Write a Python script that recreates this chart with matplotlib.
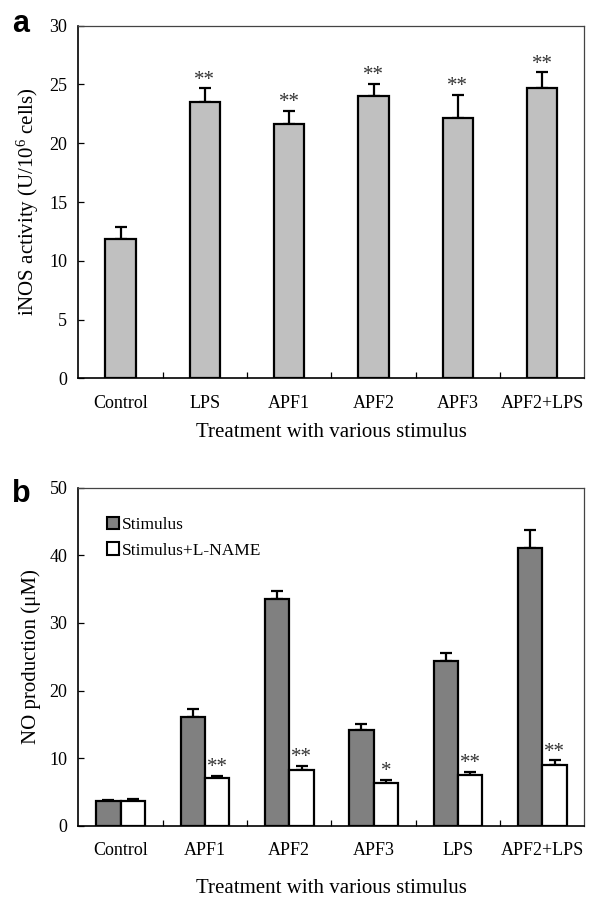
import matplotlib
matplotlib.use("Agg")
import matplotlib.pyplot as plt
from matplotlib.patches import Patch
import numpy as np

plt.rcParams['font.family'] = ['Liberation Serif', 'DejaVu Serif']
plt.rcParams['mathtext.fontset'] = 'custom'
plt.rcParams['mathtext.rm'] = 'Liberation Serif'
plt.rcParams['mathtext.it'] = 'Liberation Serif:italic'

# Panel a data
cats_a = ['Control', 'LPS', 'APF1', 'APF2', 'APF3', 'APF2+LPS']
inos_mean = [11.85, 23.55, 21.65, 24.02, 22.12, 24.66]
inos_err = [1.05, 1.12, 1.09, 1.02, 1.96, 1.37]
inos_sig = ['', '**', '**', '**', '**', '**']

# Panel b data
cats_b = ['Control', 'APF1', 'APF2', 'APF3', 'LPS', 'APF2+LPS']
no_stim = [3.59, 16.04, 33.56, 14.17, 24.31, 41.14]
no_stim_err = [0.15, 1.28, 1.09, 0.89, 1.28, 2.56]
no_lname = [3.69, 6.99, 8.27, 6.30, 7.48, 8.91]
no_lname_err = [0.21, 0.34, 0.63, 0.49, 0.44, 0.74]
no_sig = ['', '**', '**', '*', '**', '**']

fig = plt.figure(figsize=(5.9, 8.98), dpi=100)
ax_a = fig.add_axes([0.133, 0.5787, 0.8576, 0.3927])
ax_b = fig.add_axes([0.133, 0.0805, 0.8576, 0.3764])

TICK_FS = 13
LABEL_FS = 15
LW = 1.6
STAR_FS = 15


def style_axis(ax, n, cats, ymax, step):
    ax.set_xlim(-0.5, n - 0.5)
    ax.set_ylim(0, ymax)
    ax.set_yticks(np.arange(0, ymax + 0.1, step))
    ax.set_xticks(np.arange(n))
    ax.set_xticklabels(cats, fontsize=TICK_FS)
    ax.set_xticks(np.arange(0.5, n - 0.5, 1), minor=True)
    ax.tick_params(axis='x', which='major', length=0, pad=12)
    ax.tick_params(axis='x', which='minor', direction='in', length=4, width=0.9)
    ax.tick_params(axis='y', direction='in', length=4.5, width=0.9, labelsize=TICK_FS, pad=8)
    for side in ['left', 'bottom']:
        ax.spines[side].set_linewidth(1.2)
    for side in ['top', 'right']:
        ax.spines[side].set_linewidth(0.9)
        ax.spines[side].set_color('#444444')


# ---- Panel a ----
xa = np.arange(len(cats_a))
wa = 0.36
ax_a.bar(xa, inos_mean, width=wa, color='#C0C0C0', edgecolor='black', linewidth=LW, zorder=3)
ax_a.errorbar(xa, inos_mean, yerr=[np.zeros(len(xa)), inos_err], fmt='none', ecolor='black',
              elinewidth=LW, capsize=4, capthick=LW, zorder=2)
for x, m, e, s in zip(xa, inos_mean, inos_err, inos_sig):
    if s:
        ax_a.annotate(s, (x, m + e), xytext=(0, 6), textcoords='offset points',
                      ha='center', va='center', fontsize=STAR_FS, color='#333333')
style_axis(ax_a, len(cats_a), cats_a, 30, 5)
ax_a.set_ylabel('iNOS activity (U/10$^6$ cells)', fontsize=LABEL_FS, labelpad=6)
ax_a.set_xlabel('Treatment with various stimulus', fontsize=LABEL_FS, labelpad=8)

# ---- Panel b ----
xb = np.arange(len(cats_b))
wb = 0.29
ax_b.bar(xb - wb / 2, no_stim, width=wb, color='#808080', edgecolor='black', linewidth=LW, zorder=3)
ax_b.bar(xb + wb / 2, no_lname, width=wb, color='white', edgecolor='black', linewidth=LW, zorder=3)
ax_b.errorbar(xb - wb / 2, no_stim, yerr=[np.zeros(len(xb)), no_stim_err], fmt='none', ecolor='black',
              elinewidth=LW, capsize=4, capthick=LW, zorder=2)
ax_b.errorbar(xb + wb / 2, no_lname, yerr=[np.zeros(len(xb)), no_lname_err], fmt='none', ecolor='black',
              elinewidth=LW, capsize=4, capthick=LW, zorder=2)
for x, m, e, s in zip(xb, no_lname, no_lname_err, no_sig):
    if s:
        ax_b.annotate(s, (x + wb / 2, m + e), xytext=(0, 6), textcoords='offset points',
                      ha='center', va='center', fontsize=STAR_FS, color='#333333')
style_axis(ax_b, len(cats_b), cats_b, 50, 10)
ax_b.set_ylabel('NO production (\u03bcM)', fontsize=LABEL_FS, labelpad=6)
ax_b.set_xlabel('Treatment with various stimulus', fontsize=LABEL_FS, labelpad=14)

handles = [Patch(facecolor='#808080', edgecolor='black', linewidth=1.5),
           Patch(facecolor='white', edgecolor='black', linewidth=1.5)]
ax_b.legend(handles, ['Stimulus', 'Stimulus+L-NAME'], loc='upper left',
            bbox_to_anchor=(0.057, 0.914), frameon=False, fontsize=12.5,
            handlelength=0.7, handleheight=0.7, handletextpad=0.15, labelspacing=0.55,
            borderpad=0, borderaxespad=0)

fig.text(0.02, 0.9644, 'a', fontsize=22, fontweight='bold', family='Liberation Sans', va='baseline')
fig.text(0.02, 0.441, 'b', fontsize=22, fontweight='bold', family='Liberation Sans', va='baseline')

fig.savefig('out.png', dpi=100)
